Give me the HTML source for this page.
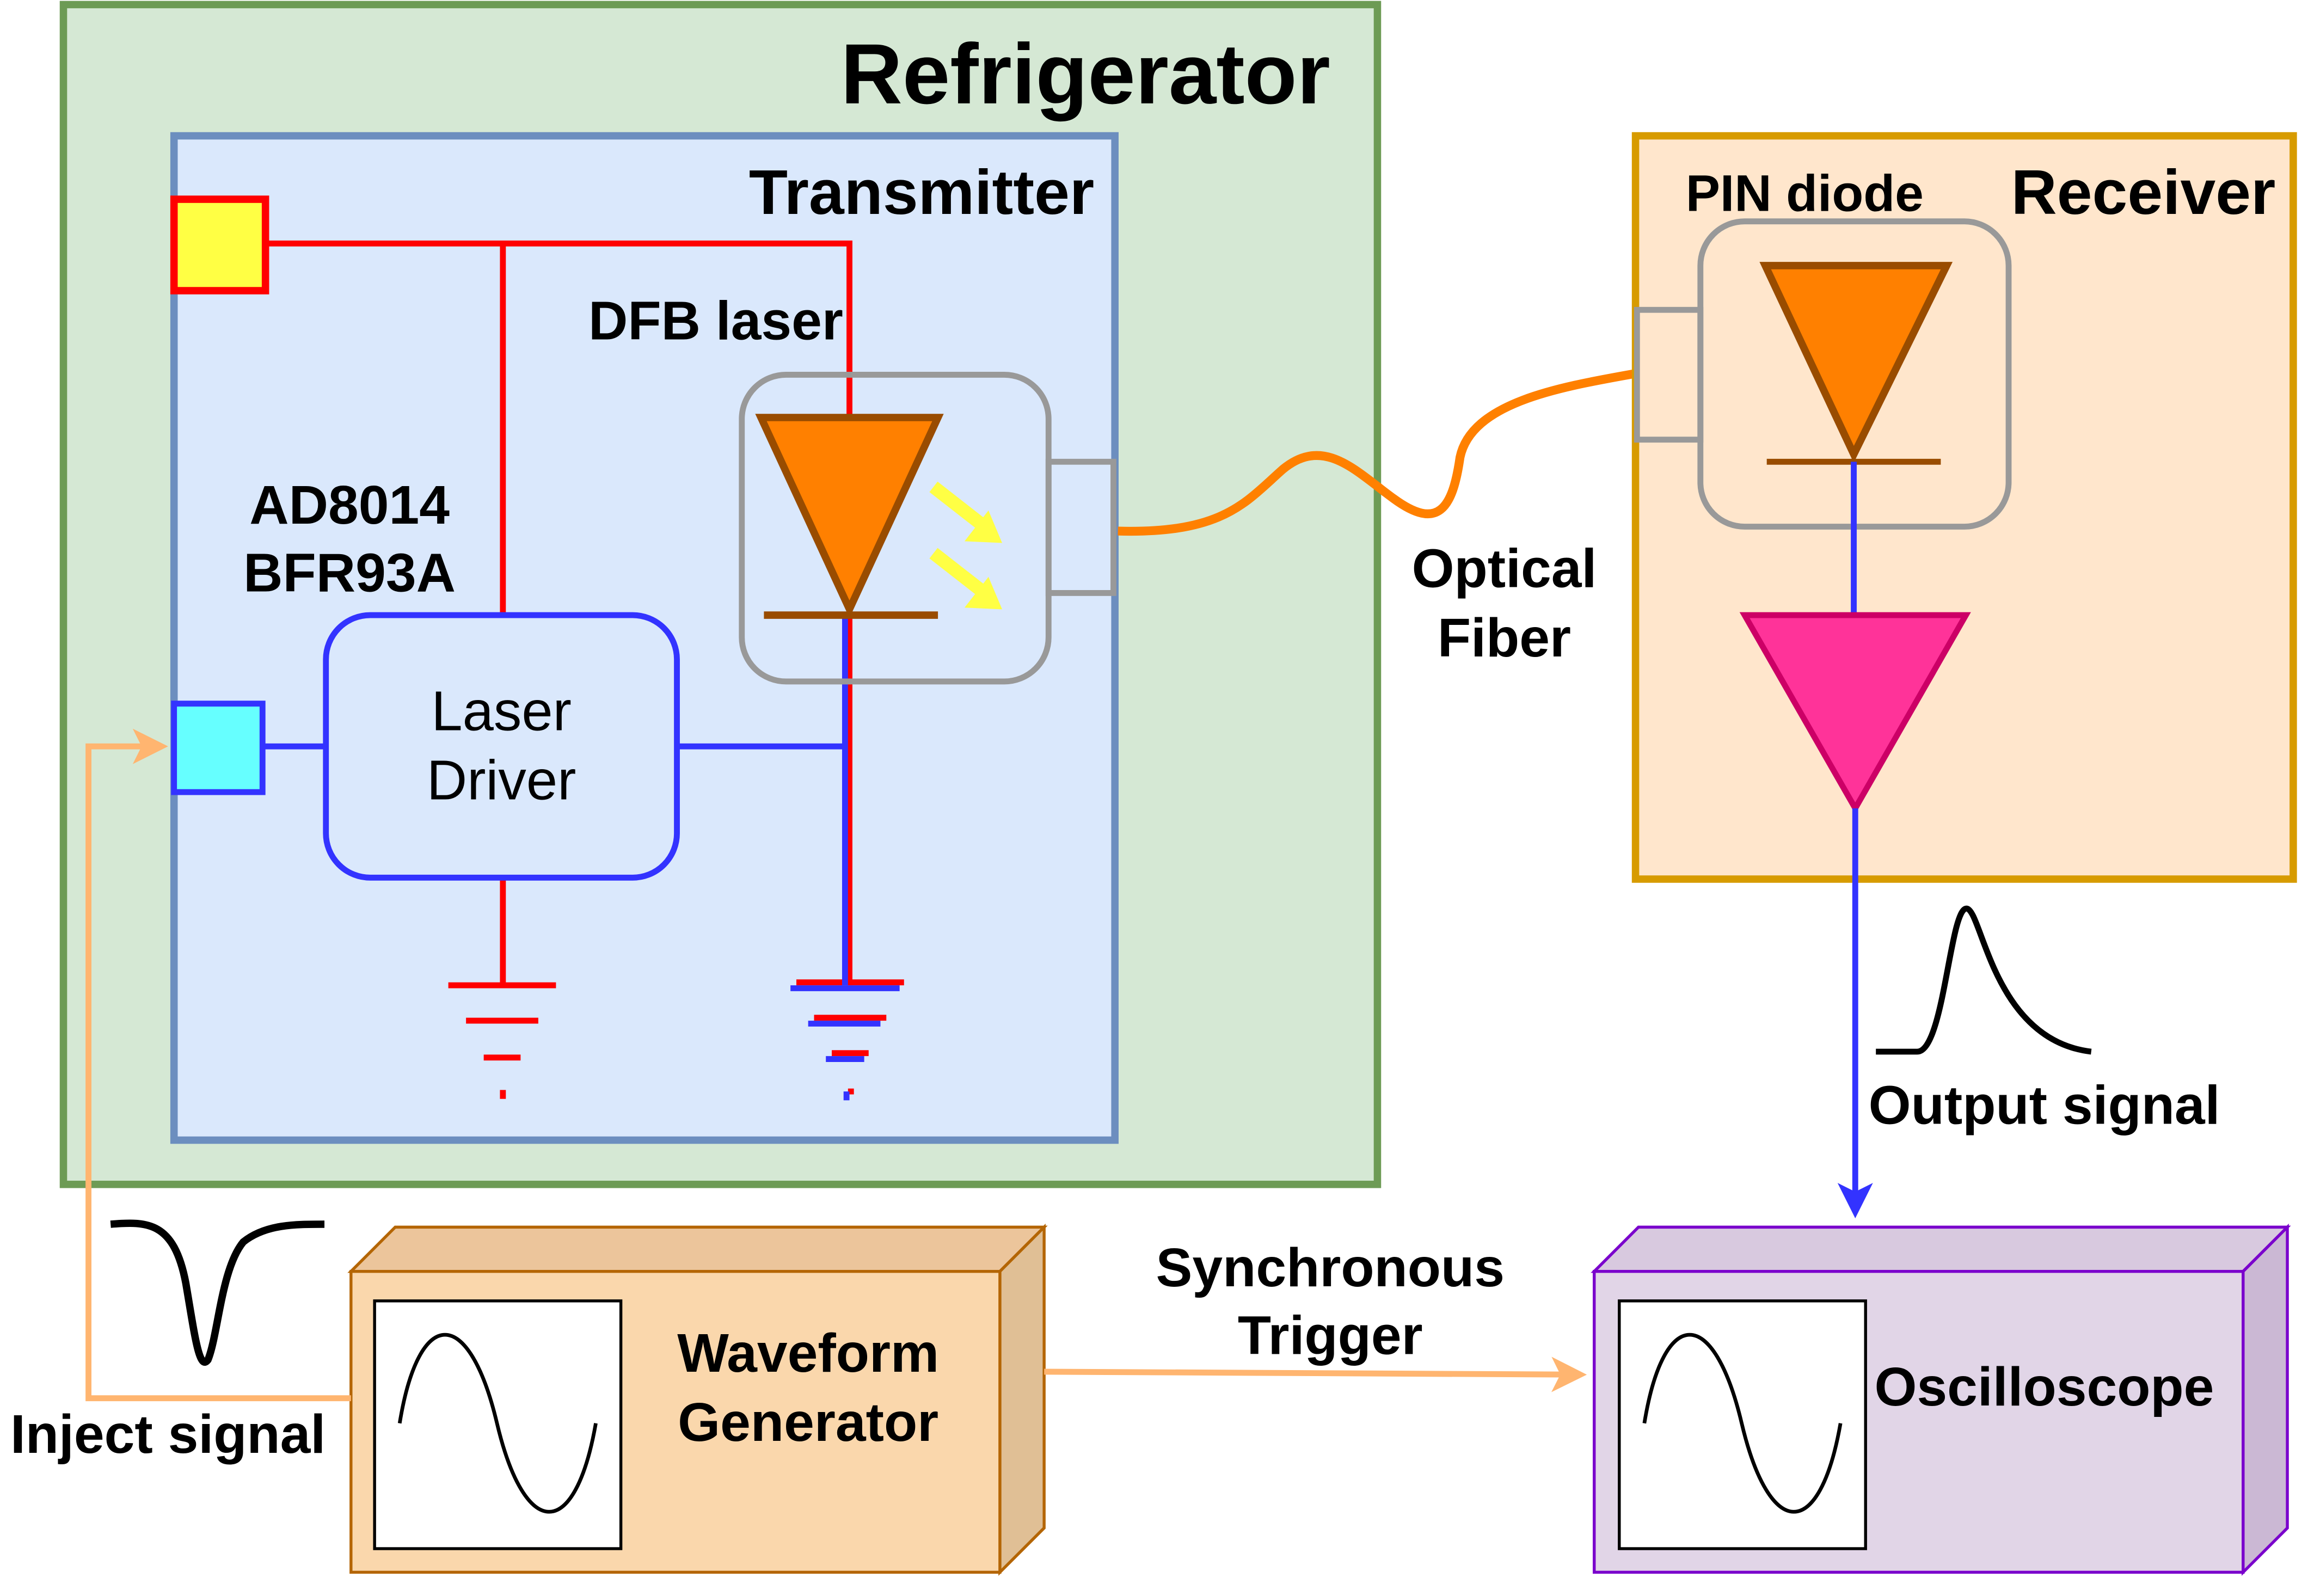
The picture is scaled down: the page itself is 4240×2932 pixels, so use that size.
<!DOCTYPE html>
<html><head><meta charset="utf-8"><style>html,body{margin:0;padding:0;background:#fff}svg{display:block}</style></head>
<body>
<svg xmlns="http://www.w3.org/2000/svg" width="4240" height="2932" viewBox="0 0 1565 1082" font-family="Liberation Sans, sans-serif">
<defs>
<marker id="ab" markerWidth="6" markerHeight="6" refX="5" refY="3" orient="auto" markerUnits="strokeWidth"><path d="M0,0 L6,3 L0,6 L1.5,3z" fill="#3333ff"/></marker>
<marker id="ao" markerWidth="6" markerHeight="6" refX="5" refY="3" orient="auto" markerUnits="strokeWidth"><path d="M0,0 L6,3 L0,6 L1.5,3z" fill="#ffb570"/></marker>
</defs>
<rect width="1565" height="1082" fill="#fff"/>
<rect x="43" y="3" width="891" height="800" fill="#d5e8d4" stroke="#6d9b55" stroke-width="5"/>
<text x="902" y="70" font-size="58" font-weight="bold" text-anchor="end">Refrigerator</text>
<rect x="118" y="92" width="638" height="681" fill="#dae8fc" stroke="#6c8ebf" stroke-width="5"/>
<text x="742" y="145" font-size="43" font-weight="bold" text-anchor="end">Transmitter</text>
<g stroke="#ff0000" stroke-width="4" fill="none">
<path d="M180,165 H576 V283"/>
<path d="M341,165 V417"/>
<path d="M341,595 V668"/>
<path d="M304,668 H377 M316,692 H365 M328,717 H353 M341,739 V745"/>
<path d="M576,417 V668"/>
<path d="M540,666 H613 M552,690 H601 M564,714 H589 M577,738 V742"/>
</g>
<rect x="118" y="135" width="62" height="62" fill="#ffff44" stroke="#ff0000" stroke-width="5"/>
<g stroke="#3333ff" stroke-width="4" fill="none">
<path d="M178,506 H221"/>
<path d="M459,506 H573"/>
<path d="M573,417 V668"/>
<path d="M536,670 H610 M548,694 H597 M560,718 H586 M574,740 V746"/>
</g>
<rect x="118" y="477" width="60" height="60" fill="#66ffff" stroke="#3333ff" stroke-width="4"/>
<rect x="221" y="417" width="238" height="178" rx="30" fill="none" stroke="#3333ff" stroke-width="4"/>
<text x="340" y="495" font-size="38" text-anchor="middle">Laser</text>
<text x="340" y="542" font-size="38" text-anchor="middle">Driver</text>
<text x="237" y="355" font-size="37" font-weight="bold" text-anchor="middle">AD8014</text>
<text x="237" y="401" font-size="37" font-weight="bold" text-anchor="middle">BFR93A</text>
<text x="399" y="230" font-size="37" font-weight="bold">DFB laser</text>
<rect x="503" y="254" width="208" height="208" rx="30" fill="none" stroke="#999" stroke-width="4"/>
<rect x="711" y="313" width="44" height="89" fill="none" stroke="#999" stroke-width="4"/>
<polygon points="516,283 636,283 576,413" fill="#ff8000" stroke="#994c00" stroke-width="5"/>
<line x1="518" y1="417" x2="636" y2="417" stroke="#994c00" stroke-width="5"/>
<g stroke="#ffff44" stroke-width="9" fill="#ffff44">
<line x1="633" y1="330" x2="665" y2="355"/><polygon points="678,367 656,366 670,348" stroke-width="2"/>
<line x1="633" y1="375" x2="665" y2="400"/><polygon points="678,412 656,411 670,393" stroke-width="2"/>
</g>
<path d="M758,360 C830,362 845,340 870,318 C898,295 920,320 945,338 C975,360 985,345 990,310 C998,272 1060,262 1110,253" fill="none" stroke="#ff8000" stroke-width="6"/>
<text x="1020" y="398" font-size="37" font-weight="bold" text-anchor="middle">Optical</text>
<text x="1020" y="445" font-size="37" font-weight="bold" text-anchor="middle">Fiber</text>
<rect x="1109" y="92" width="446" height="504" fill="#ffe6cc" stroke="#d79b00" stroke-width="5"/>
<text x="1543" y="145" font-size="43" font-weight="bold" text-anchor="end">Receiver</text>
<text x="1143" y="143" font-size="35" font-weight="bold">PIN diode</text>
<rect x="1153" y="150" width="209" height="207" rx="30" fill="none" stroke="#999" stroke-width="4"/>
<rect x="1110" y="210" width="43" height="88" fill="none" stroke="#999" stroke-width="4"/>
<polygon points="1197,180 1320,180 1257,308" fill="#ff8000" stroke="#994c00" stroke-width="5"/>
<line x1="1198" y1="313" x2="1316" y2="313" stroke="#994c00" stroke-width="4"/>
<line x1="1257" y1="313" x2="1257" y2="416" stroke="#3333ff" stroke-width="4"/>
<polygon points="1183,417 1333,417 1258,548" fill="#ff3399" stroke="#cc0066" stroke-width="4"/>
<line x1="1258" y1="548" x2="1258" y2="822" stroke="#3333ff" stroke-width="4" marker-end="url(#ab)"/>
<path d="M1272,713 L1300,713 C1318,713 1322,618 1333,616 C1344,614 1350,705 1418,713" fill="none" stroke="#000" stroke-width="4"/>
<text x="1267" y="762" font-size="37" font-weight="bold">Output signal</text>
<polygon points="1081,862 1111,832 1551,832 1521,862" fill="#d8c9df" stroke="#7a00cc" stroke-width="2"/>
<polygon points="1521,862 1551,832 1551,1036 1521,1066" fill="#cbb8d4" stroke="#7a00cc" stroke-width="2"/>
<rect x="1081" y="862" width="440" height="204" fill="#e1d5e7" stroke="#7a00cc" stroke-width="2"/>
<rect x="1098" y="882" width="167" height="168" fill="#fff" stroke="#000" stroke-width="2"/>
<path d="M1115,965 C1128,885 1162,885 1181,965 C1200,1045 1234,1045 1248,965" fill="none" stroke="#000" stroke-width="2.5"/>
<text x="1271" y="953" font-size="37" font-weight="bold">Oscilloscope</text>
<polygon points="238,862 268,832 708,832 678,862" fill="#ecc59b" stroke="#b46504" stroke-width="2"/>
<polygon points="678,862 708,832 708,1036 678,1066" fill="#e0bf95" stroke="#b46504" stroke-width="2"/>
<rect x="238" y="862" width="440" height="204" fill="#fad7ac" stroke="#b46504" stroke-width="2"/>
<rect x="254" y="882" width="167" height="168" fill="#fff" stroke="#000" stroke-width="2"/>
<path d="M271,965 C284,885 318,885 337,965 C356,1045 390,1045 404,965" fill="none" stroke="#000" stroke-width="2.5"/>
<text x="548" y="930" font-size="37" font-weight="bold" text-anchor="middle">Waveform</text>
<text x="548" y="977" font-size="37" font-weight="bold" text-anchor="middle">Generator</text>
<path d="M238,948 H60 V506 H110" fill="none" stroke="#ffb570" stroke-width="4" marker-end="url(#ao)"/>
<path d="M708,930 L1072,932" fill="none" stroke="#ffb570" stroke-width="4" marker-end="url(#ao)"/>
<path d="M75,830 C100,828 118,828 126,870 C132,905 135,930 141,922 C148,905 150,860 165,842 C180,830 200,830 220,830" fill="none" stroke="#000" stroke-width="5"/>
<text x="7" y="985" font-size="37" font-weight="bold">Inject signal</text>
<text x="902" y="872" font-size="37" font-weight="bold" text-anchor="middle">Synchronous</text>
<text x="902" y="918" font-size="37" font-weight="bold" text-anchor="middle">Trigger</text>
</svg>
</body></html>
